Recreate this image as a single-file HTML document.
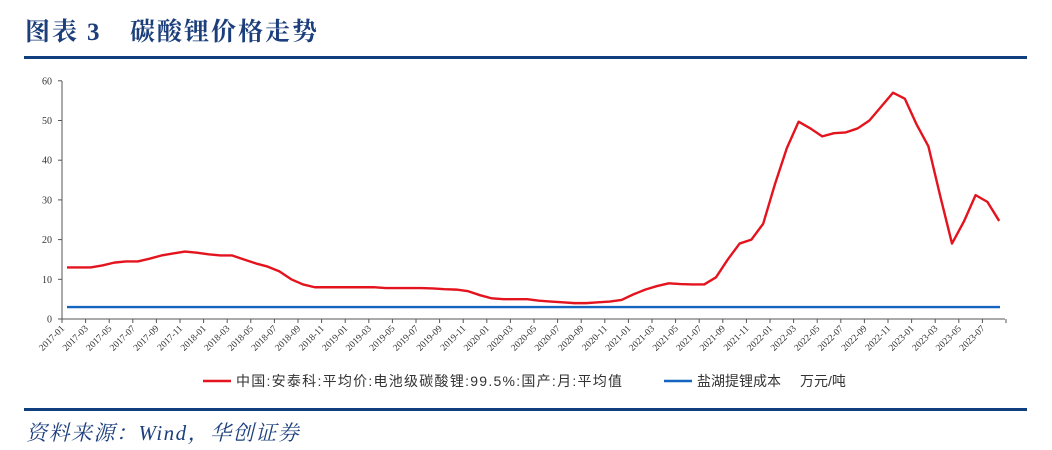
<!DOCTYPE html>
<html><head><meta charset="utf-8"><style>
body{margin:0;background:#fff;width:1052px;height:450px;overflow:hidden}
svg{display:block}
</style></head><body>
<svg width="1052" height="450" xmlns="http://www.w3.org/2000/svg" id="s">
<text x="25" y="40" font-family="'Liberation Serif','Noto Serif CJK SC',serif" font-weight="bold" font-size="25" fill="#1c3f7c" letter-spacing="2">图表<tspan dx="8">3</tspan><tspan x="130">碳酸锂价格走势</tspan></text>
<rect x="24" y="56" width="1003" height="3" fill="#0f3f7f"/>
<rect x="24" y="408" width="1003" height="3" fill="#0f3f7f"/>
<text x="26" y="440" font-family="'Liberation Serif','Noto Serif CJK SC',serif" font-style="italic" font-size="21" fill="#1c3f7c" letter-spacing="1.5">资料来源：Wind，华创证券</text>
<g id="ax" font-family="'Liberation Serif',serif" font-size="10" fill="#333"></g>
</svg>
<script>
const s=document.getElementById('ax');const NS="http://www.w3.org/2000/svg";
function el(t,a,txt){const e=document.createElementNS(NS,t);for(const k in a)e.setAttribute(k,a[k]);if(txt!=null)e.textContent=txt;s.appendChild(e);return e;}
const y=v=>319-v*3.97;
el('line',{x1:62,y1:81,x2:62,y2:319,stroke:'#555','stroke-width':1});
el('line',{x1:62,y1:319,x2:1005,y2:319,stroke:'#555','stroke-width':1});
for(let v=0;v<=60;v+=10){el('line',{x1:58,y1:y(v),x2:62,y2:y(v),stroke:'#555'});el('text',{x:52,y:y(v)+3.5,'text-anchor':'end'},v);}
for(let k=0;k<=40;k++){const x=62+k*23.6;el('line',{x1:x,y1:319,x2:x,y2:323,stroke:'#555'});
 if(k<40){const m=k*2;const yr=2017+Math.floor(m/12);const mo=String(m%12+1).padStart(2,'0');
 el('text',{x:x+3,y:329,'text-anchor':'end',transform:`rotate(-45 ${x+3} 329)`,'font-size':9.5},yr+'-'+mo);}}
const d=[13,13,13,13.5,14.2,14.5,14.5,15.2,16,16.5,17,16.7,16.3,16,16,15,14,13.2,12,10,8.7,8,8,8,8,8,8,7.8,7.8,7.8,7.8,7.7,7.5,7.4,7,6,5.2,5,5,5,4.6,4.4,4.2,4,4,4.2,4.4,4.8,6.2,7.4,8.3,9,8.8,8.7,8.7,10.5,15,19,20,24,34,43,49.7,48,46,46.8,47,48,50,53.5,57,55.5,49,43.5,31,19,24.5,31.2,29.5,24.7];
el('polyline',{points:d.map((v,i)=>(67+i*11.8)+','+y(v)).join(' '),fill:'none',stroke:'#e3141e','stroke-width':2.4,'stroke-linejoin':'round'});
el('line',{x1:67,y1:y(3),x2:1000,y2:y(3),stroke:'#1565c0','stroke-width':2.4});
el('line',{x1:203,y1:381,x2:231,y2:381,stroke:'#e3141e','stroke-width':2.4});
el('text',{x:236,y:386,'font-size':14,'font-family':"'Liberation Sans','Noto Sans CJK SC',sans-serif",fill:'#333',textLength:386,lengthAdjust:'spacing'},'中国:安泰科:平均价:电池级碳酸锂:99.5%:国产:月:平均值');
el('line',{x1:664,y1:381,x2:692,y2:381,stroke:'#1565c0','stroke-width':2.4});
el('text',{x:697,y:386,'font-size':14,'font-family':"'Liberation Sans','Noto Sans CJK SC',sans-serif",fill:'#333'},'盐湖提锂成本');
el('text',{x:800,y:386,'font-size':14,'font-family':"'Liberation Sans','Noto Sans CJK SC',sans-serif",fill:'#333'},'万元/吨');
</script>
</body></html>
